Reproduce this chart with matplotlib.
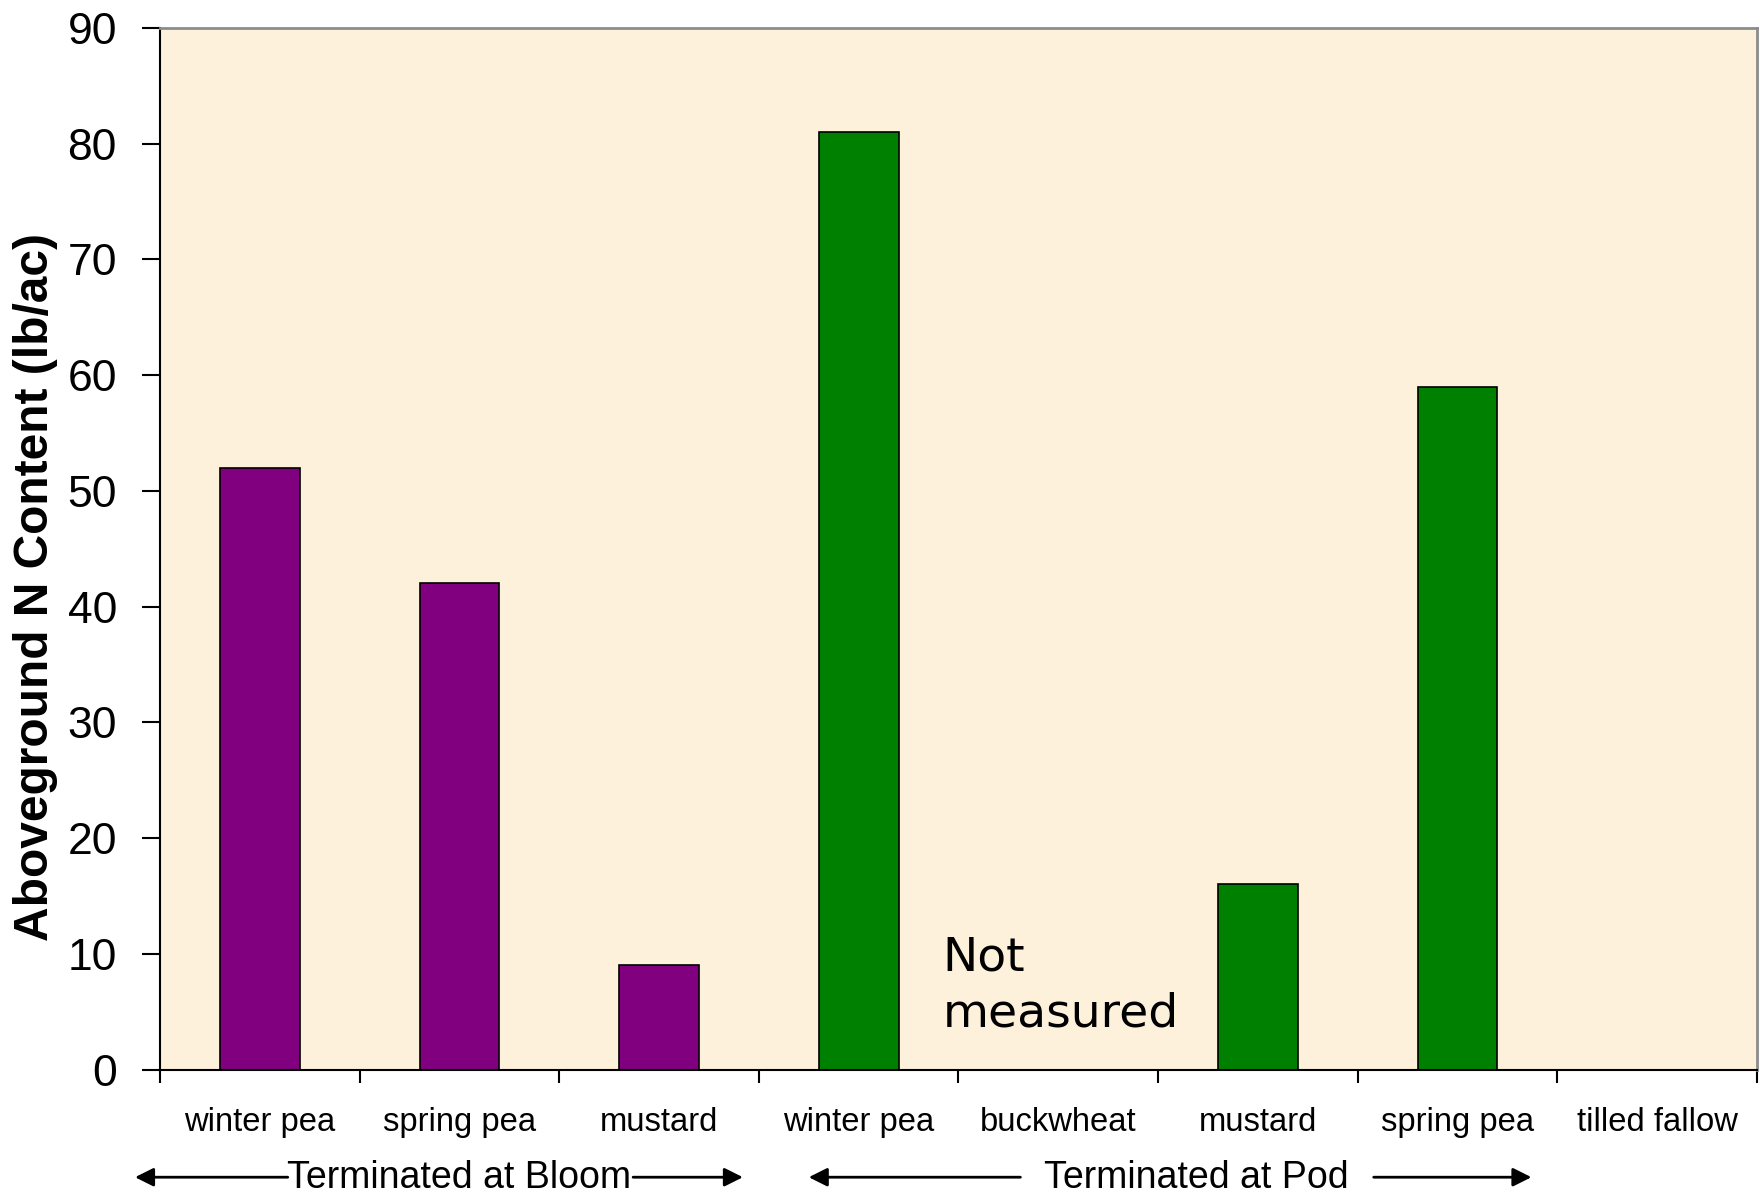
import numpy as np
import matplotlib.pyplot as plt
from matplotlib.ticker import FixedLocator, NullFormatter
from matplotlib import transforms

# cover crop treatments, grouped by termination stage
crops = ["winter pea", "spring pea", "mustard",
         "winter pea", "buckwheat", "mustard", "spring pea", "tilled fallow"]
n_content = [52, 42, 9, 81, np.nan, 16, 59, np.nan]   # lb N / ac
bar_colors = ["#800080"] * 3 + ["#008000"] * 5

yticks = [0, 10, 20, 30, 40, 50, 60, 70, 80, 90]

arial = ["Liberation Sans", "DejaVu Sans"]

fig = plt.figure(figsize=(17.6, 11.93), dpi=100)
ax = fig.add_axes([0.0909, 0.1035, 0.9074, 0.8730])
ax.set_facecolor("#FDF1DB")

x = np.arange(len(crops))
heights = np.nan_to_num(n_content)
ax.bar(x, heights, width=0.4, color=bar_colors, edgecolor="black",
       linewidth=1.2, zorder=2)

ax.set_xlim(-0.5, len(crops) - 0.5)
ax.set_ylim(0, 90)

# y axis
ax.set_yticks(yticks)
ax.set_yticklabels([str(v) for v in yticks], family=arial, fontsize=32)
ax.tick_params(axis="y", length=13, width=1.5, pad=18, direction="out")
ax.set_ylabel("Aboveground N Content (lb/ac)", family=arial, fontsize=34.5,
              fontweight="bold")
ax.yaxis.set_label_coords(-0.0636, 0.463)

# x axis: tick marks between categories, labels at category centres
ax.xaxis.set_major_locator(FixedLocator(np.arange(-0.5, len(crops), 1.0)))
ax.xaxis.set_major_formatter(NullFormatter())
ax.xaxis.set_minor_locator(FixedLocator(x))
ax.set_xticklabels(crops, minor=True, family=arial, fontsize=23.6)
ax.tick_params(axis="x", which="major", length=9, width=1.5, direction="out")
ax.tick_params(axis="x", which="minor", length=0, pad=27)

for side in ["left", "bottom"]:
    ax.spines[side].set_color("black")
    ax.spines[side].set_linewidth(1.5)
for side in ["top", "right"]:
    ax.spines[side].set_color("#8c8c8c")
    ax.spines[side].set_linewidth(2)

ax.text(3.42, 7.25, "Not\nmeasured", family="DejaVu Sans", fontsize=34,
        ha="left", va="center", linespacing=1.32, zorder=3)

# termination stage groups under the category labels
trans = transforms.blended_transform_factory(ax.transData, ax.transAxes)
arrow_kw = dict(arrowstyle="-|>", color="black", lw=2,
                mutation_scale=28, shrinkA=0, shrinkB=0)
y_arrow = -0.1034
y_text = -0.114

ax.text(1.0, y_text, "Terminated at Bloom", transform=trans, family=arial,
        fontsize=27, ha="center", va="baseline", clip_on=False)
ax.annotate("", xy=(-0.625, y_arrow), xytext=(0.14, y_arrow),
            xycoords=trans, textcoords=trans, arrowprops=arrow_kw)
ax.annotate("", xy=(2.42, y_arrow), xytext=(1.87, y_arrow),
            xycoords=trans, textcoords=trans, arrowprops=arrow_kw)

ax.text(4.69, y_text, "Terminated at Pod", transform=trans, family=arial,
        fontsize=27, ha="center", va="baseline", clip_on=False)
ax.annotate("", xy=(2.75, y_arrow), xytext=(3.81, y_arrow),
            xycoords=trans, textcoords=trans, arrowprops=arrow_kw)
ax.annotate("", xy=(6.37, y_arrow), xytext=(5.58, y_arrow),
            xycoords=trans, textcoords=trans, arrowprops=arrow_kw)

fig.savefig("out.png", dpi=100, facecolor="white")
